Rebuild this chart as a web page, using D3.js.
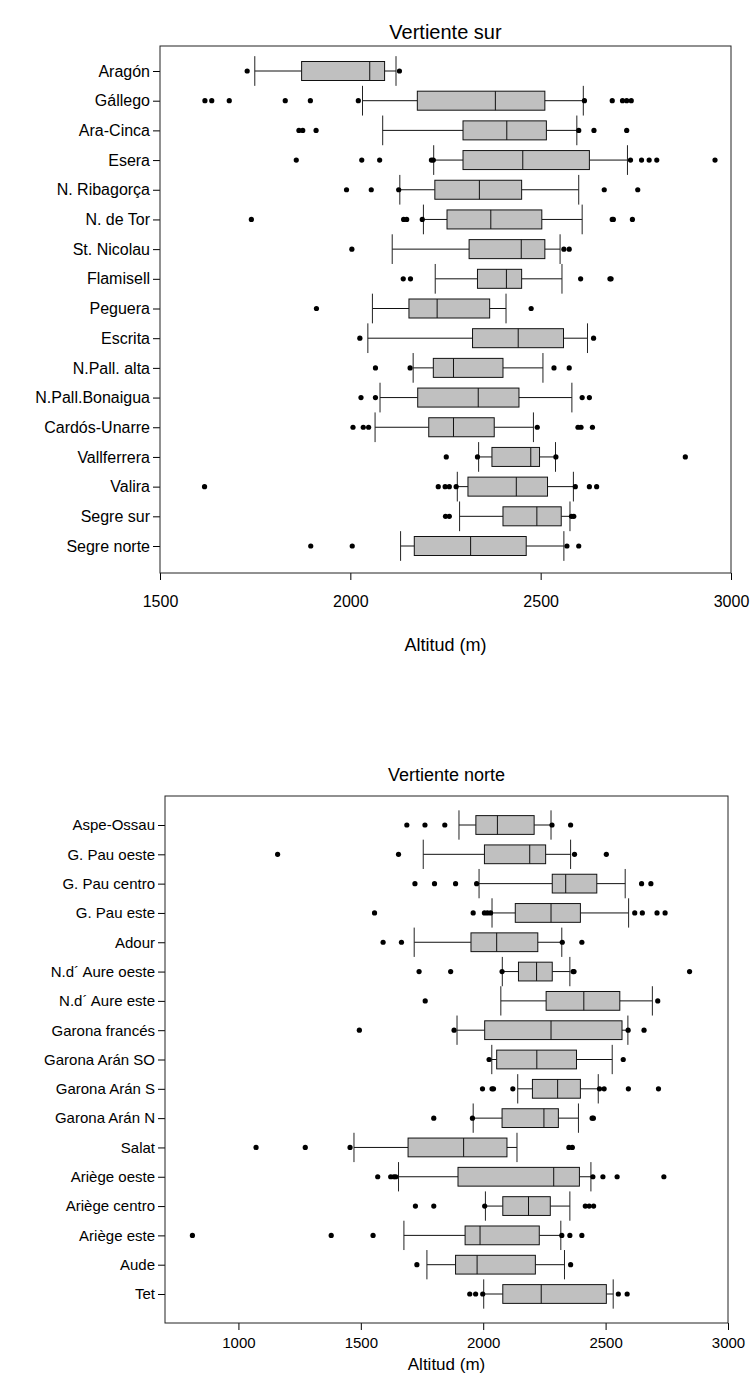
<!DOCTYPE html>
<html>
<head>
<meta charset="utf-8">
<script src="https://cdn.jsdelivr.net/npm/d3@7"></script>
<style>
  body { margin: 0; background: #fff; }
  svg text { font-family: "Liberation Sans", Arial, sans-serif; fill: #000; }
</style>
</head>
<body>
<div id="body"></div>
<script>
// Vertiente sur
const surCats = ['Aragón', 'Gállego', 'Ara-Cinca', 'Esera', 'N. Ribagorça', 'N. de Tor', 'St. Nicolau', 'Flamisell', 'Peguera', 'Escrita', 'N.Pall. alta', 'N.Pall.Bonaigua', 'Cardós-Unarre', 'Vallferrera', 'Valira', 'Segre sur', 'Segre norte'];
const surLo  = [1749, 2032, 2085, 2219, 2130, 2192, 2110, 2223, 2058, 2046, 2165, 2078, 2065, 2337, 2281, 2287, 2132];
const surQ1  = [1872, 2176, 2296, 2296, 2222, 2254, 2312, 2334, 2154, 2321, 2218, 2177, 2206, 2372, 2309, 2401, 2168];
const surMed = [2051, 2381, 2411, 2453, 2339, 2369, 2449, 2410, 2228, 2441, 2271, 2336, 2271, 2474, 2436, 2490, 2316];
const surQ3  = [2090, 2511, 2515, 2628, 2450, 2503, 2511, 2450, 2366, 2560, 2401, 2443, 2378, 2497, 2518, 2554, 2462];
const surHi  = [2120, 2612, 2595, 2728, 2600, 2609, 2551, 2556, 2409, 2623, 2506, 2582, 2481, 2539, 2586, 2577, 2561];
const surOut = [
  [1729, 2129],
  [1618, 1636, 1682, 1829, 1895, 2021, 2615, 2688, 2715, 2726, 2738],
  [1865, 1875, 1910, 2600, 2640, 2726],
  [1858, 2030, 2077, 2213, 2218, 2736, 2765, 2785, 2805, 2958],
  [1990, 2055, 2127, 2667, 2755],
  [1740, 2140, 2148, 2189, 2688, 2691, 2741],
  [2004, 2561, 2575],
  [2139, 2158, 2605, 2682, 2685],
  [1911, 2475],
  [2025, 2639],
  [2066, 2157, 2535, 2575],
  [2028, 2066, 2609, 2628],
  [2007, 2034, 2048, 2491, 2598, 2606, 2636],
  [2252, 2334, 2540, 2880],
  [1617, 2231, 2249, 2260, 2278, 2591, 2628, 2647],
  [2250, 2260, 2581, 2587],
  [1896, 2005, 2569, 2600]
];
const surTicks = [1500, 2000, 2500, 3000];

// Vertiente norte
const norCats = ['Aspe-Ossau', 'G. Pau oeste', 'G. Pau centro', 'G. Pau este', 'Adour', 'N.d´ Aure oeste', 'N.d´ Aure este', 'Garona francés', 'Garona Arán SO', 'Garona Arán S', 'Garona Arán N', 'Salat', 'Ariège oeste', 'Ariège centro', 'Ariège este', 'Aude', 'Tet'];
const norLo  = [1901, 1755, 1983, 2036, 1718, 2078, 2072, 1893, 2035, 2141, 1959, 1472, 1654, 2009, 1676, 1770, 2002];
const norQ1  = [1970, 2005, 2282, 2131, 1950, 2144, 2257, 2006, 2055, 2201, 2077, 1693, 1897, 2080, 1926, 1887, 2080];
const norMed = [2058, 2190, 2337, 2277, 2055, 2218, 2411, 2277, 2219, 2304, 2248, 1920, 2288, 2185, 1987, 1975, 2237];
const norQ3  = [2208, 2255, 2464, 2397, 2223, 2282, 2558, 2567, 2381, 2397, 2307, 2097, 2393, 2274, 2229, 2213, 2503];
const norHi  = [2277, 2357, 2580, 2594, 2321, 2354, 2691, 2591, 2527, 2470, 2389, 2138, 2440, 2354, 2317, 2332, 2531];
const norOut = [
  [1688, 1762, 1843, 2281, 2357],
  [1160, 1654, 2373, 2503],
  [1721, 1801, 1887, 1973, 2647, 2685],
  [1556, 1959, 2005, 2017, 2030, 2619, 2650, 2710, 2743],
  [1591, 1666, 2323, 2403],
  [1738, 1867, 2077, 2367, 2371, 2843],
  [1763, 2713],
  [1494, 1881, 2592, 2657],
  [2024, 2572],
  [1997, 2036, 2042, 2121, 2475, 2494, 2593, 2716],
  [1798, 1956, 2445, 2450],
  [1072, 1273, 1456, 2350, 2364],
  [1569, 1622, 1635, 1643, 2448, 2489, 2547, 2738],
  [1723, 1798, 2006, 2417, 2433, 2451],
  [812, 1379, 1550, 2321, 2354, 2403],
  [1729, 2357],
  [1945, 1969, 1998, 2552, 2588]
];
const norTicks = [1000, 1500, 2000, 2500, 3000];

const width = 755, height = 1378;
const svg = d3.select('#body').append('svg')
  .attr('width', width)
  .attr('height', height);

function panel(opt) {
  const g = svg.append('g');
  const x = d3.scaleLinear().domain(opt.domain).range([opt.left, opt.right]);
  const y = d3.scalePoint().domain(opt.cats).range([opt.rowTop, opt.rowBottom]);
  const step = y.step();
  const boxH = step * 0.64;

  const rows = opt.cats.map((c, i) => ({
    cat: c, lo: opt.lo[i], q1: opt.q1[i], med: opt.med[i], q3: opt.q3[i], hi: opt.hi[i], out: opt.out[i]
  }));

  // title
  g.append('text')
    .attr('x', (opt.left + opt.right) / 2)
    .attr('y', opt.titleY)
    .attr('text-anchor', 'middle')
    .style('font-size', opt.titleSize + 'px')
    .text(opt.title);

  // axes
  g.append('g')
    .attr('transform', `translate(0,${opt.bottom})`)
    .call(d3.axisBottom(x).tickValues(opt.ticks).tickSize(7).tickSizeOuter(0).tickPadding(opt.xPad).tickFormat(d3.format('d')))
    .call(a => a.select('.domain').remove())
    .call(a => a.selectAll('text').style('font-size', opt.fontSize + 'px').style('font-family', '"Liberation Sans", Arial, sans-serif'));

  g.append('g')
    .attr('transform', `translate(${opt.left},0)`)
    .call(d3.axisLeft(y).tickSize(7).tickSizeOuter(0).tickPadding(3))
    .call(a => a.select('.domain').remove())
    .call(a => a.selectAll('text').style('font-size', opt.fontSize + 'px').style('font-family', '"Liberation Sans", Arial, sans-serif'));

  // frame
  g.append('rect')
    .attr('x', opt.left).attr('y', opt.top)
    .attr('width', opt.right - opt.left).attr('height', opt.bottom - opt.top)
    .attr('fill', 'none').attr('stroke', '#222').attr('stroke-width', 1);

  g.append('text')
    .attr('x', (opt.left + opt.right) / 2)
    .attr('y', opt.axisTitleY)
    .attr('text-anchor', 'middle')
    .style('font-size', opt.axisTitleSize + 'px')
    .text('Altitud (m)');

  const row = g.selectAll('g.row').data(rows).enter().append('g')
    .attr('class', 'row')
    .attr('transform', d => `translate(0,${y(d.cat)})`);

  // whiskers
  row.append('line')
    .attr('x1', d => x(d.lo)).attr('x2', d => x(d.q1))
    .attr('stroke', '#111');
  row.append('line')
    .attr('x1', d => x(d.q3)).attr('x2', d => x(d.hi))
    .attr('stroke', '#111');
  row.append('line')
    .attr('x1', d => x(d.lo)).attr('x2', d => x(d.lo))
    .attr('y1', -step / 2).attr('y2', step / 2)
    .attr('stroke', '#222');
  row.append('line')
    .attr('x1', d => x(d.hi)).attr('x2', d => x(d.hi))
    .attr('y1', -step / 2).attr('y2', step / 2)
    .attr('stroke', '#222');

  // box
  row.append('rect')
    .attr('x', d => x(d.q1))
    .attr('y', -boxH / 2)
    .attr('width', d => x(d.q3) - x(d.q1))
    .attr('height', boxH)
    .attr('fill', '#c0c0c0')
    .attr('stroke', '#111');
  row.append('line')
    .attr('x1', d => x(d.med)).attr('x2', d => x(d.med))
    .attr('y1', -boxH / 2).attr('y2', boxH / 2)
    .attr('stroke', '#111');

  // outliers
  row.selectAll('circle').data(d => d.out).enter().append('circle')
    .attr('cx', v => x(v))
    .attr('cy', 0)
    .attr('r', 2.6)
    .attr('fill', '#000');
}

panel({
  title: 'Vertiente sur', titleY: 39, titleSize: 20,
  axisTitleY: 651, axisTitleSize: 18, fontSize: 16, xPad: 16,
  cats: surCats, lo: surLo, q1: surQ1, med: surMed, q3: surQ3, hi: surHi, out: surOut,
  domain: [1500, 3000], ticks: surTicks,
  left: 160, right: 731, top: 46, bottom: 573, rowTop: 71, rowBottom: 546
});

panel({
  title: 'Vertiente norte', titleY: 781, titleSize: 18,
  axisTitleY: 1370, axisTitleSize: 17, fontSize: 15, xPad: 7,
  cats: norCats, lo: norLo, q1: norQ1, med: norMed, q3: norQ3, hi: norHi, out: norOut,
  domain: [700, 3000], ticks: norTicks,
  left: 165, right: 728, top: 796, bottom: 1323, rowTop: 825, rowBottom: 1294
});
</script>
</body>
</html>
